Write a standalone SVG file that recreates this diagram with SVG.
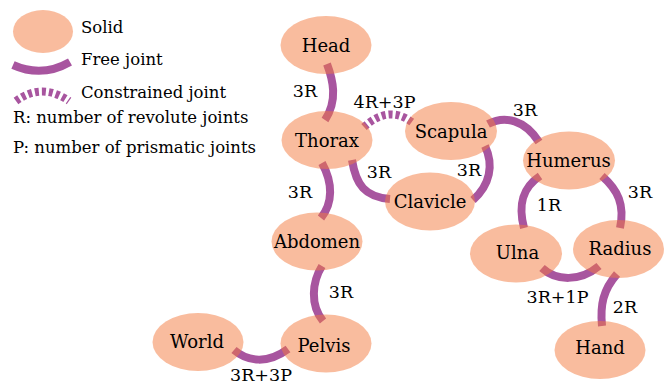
<svg xmlns="http://www.w3.org/2000/svg" width="664" height="389" viewBox="0 0 664 389">
<style>
  .j { fill: none; stroke: #a8559f; stroke-width: 8; stroke-linecap: butt; }
  .c { stroke-dasharray: 4 3; }
  .s { fill: #f3793d; fill-opacity: 0.5; }
</style>
<rect width="664" height="389" fill="#fff"/>
<g id="connectors">
  <path class="j" d="M327,64 C333,80 338,100 325,120"/>
  <path class="j c" d="M364,127 Q389,104 413,123"/>
  <path class="j" d="M352,160 C356,185 365,197 390,199"/>
  <path class="j" d="M485,146 C494,165 490,185 473,200"/>
  <path class="j" d="M488,124 C505,115 525,120 539,142"/>
  <path class="j" d="M540,176 C522,188 518,205 524,228"/>
  <path class="j" d="M602,176 C618,190 625,205 620,228"/>
  <path class="j" d="M542,268 C556,281 580,282 599,266"/>
  <path class="j" d="M617,274 C603,290 600,305 602,326"/>
  <path class="j" d="M322,163 C333,183 333,203 321,218"/>
  <path class="j" d="M322,266 C312,282 310,305 323,321"/>
  <path class="j" d="M234,350 C248,362 268,364 288,349"/>
  <g font-family="DejaVu Serif, serif" font-size="17.5" text-anchor="middle">
  <text x="305" y="97">3R</text>
  <text x="384.5" y="108">4R+3P</text>
  <text x="379" y="178">3R</text>
  <text x="469" y="176">3R</text>
  <text x="525" y="116">3R</text>
  <text x="549" y="211">1R</text>
  <text x="640" y="198">3R</text>
  <text x="557.5" y="303">3R+1P</text>
  <text x="625" y="313">2R</text>
  <text x="300" y="198">3R</text>
  <text x="341" y="298">3R</text>
  <text x="261" y="381">3R+3P</text>
  </g>
</g>
<g id="legend">
  <ellipse class="s" cx="43" cy="31.5" rx="30" ry="21.5"/>
  <path class="j" d="M13,65 Q42,78 70,62"/>
  <path class="j c" d="M16,101 Q42,82 69,101"/>
  <g font-family="DejaVu Serif, serif" font-size="16.5">
  <text x="81" y="32.5">Solid</text>
  <text x="81" y="65">Free joint</text>
  <text x="81" y="97.5">Constrained joint</text>
  <text x="13" y="123">R: number of revolute joints</text>
  <text x="13" y="152.5">P: number of prismatic joints</text>
  </g>
</g>
<g font-family="DejaVu Serif, serif" font-size="18" text-anchor="middle">
<g id="head"><ellipse class="s" cx="326" cy="45" rx="45.5" ry="29"/><text x="326" y="51.5">Head</text></g>
<g id="thorax"><ellipse class="s" cx="327" cy="140" rx="45.5" ry="29"/><text x="327" y="146.5">Thorax</text></g>
<g id="scapula"><ellipse class="s" cx="451" cy="131" rx="46" ry="29"/><text x="451" y="137.5">Scapula</text></g>
<g id="clavicle"><ellipse class="s" cx="430" cy="201.5" rx="45" ry="29"/><text x="430" y="208.3">Clavicle</text></g>
<g id="abdomen"><ellipse class="s" cx="317" cy="241.5" rx="45.5" ry="29"/><text x="317" y="248">Abdomen</text></g>
<g id="pelvis"><ellipse class="s" cx="326" cy="343.5" rx="45.5" ry="29"/><text x="324" y="351.5">Pelvis</text></g>
<g id="world"><ellipse class="s" cx="198" cy="342" rx="45.5" ry="29"/><text x="197" y="348.3">World</text></g>
<g id="humerus"><ellipse class="s" cx="569" cy="160.5" rx="46" ry="29"/><text x="568.5" y="166.7">Humerus</text></g>
<g id="ulna"><ellipse class="s" cx="516" cy="253.5" rx="46" ry="29"/><text x="517.5" y="259.3">Ulna</text></g>
<g id="radius"><ellipse class="s" cx="618.5" cy="249" rx="45.5" ry="29"/><text x="620" y="255">Radius</text></g>
<g id="hand"><ellipse class="s" cx="600" cy="350" rx="45.5" ry="29"/><text x="600" y="354">Hand</text></g>
</g>
</svg>
